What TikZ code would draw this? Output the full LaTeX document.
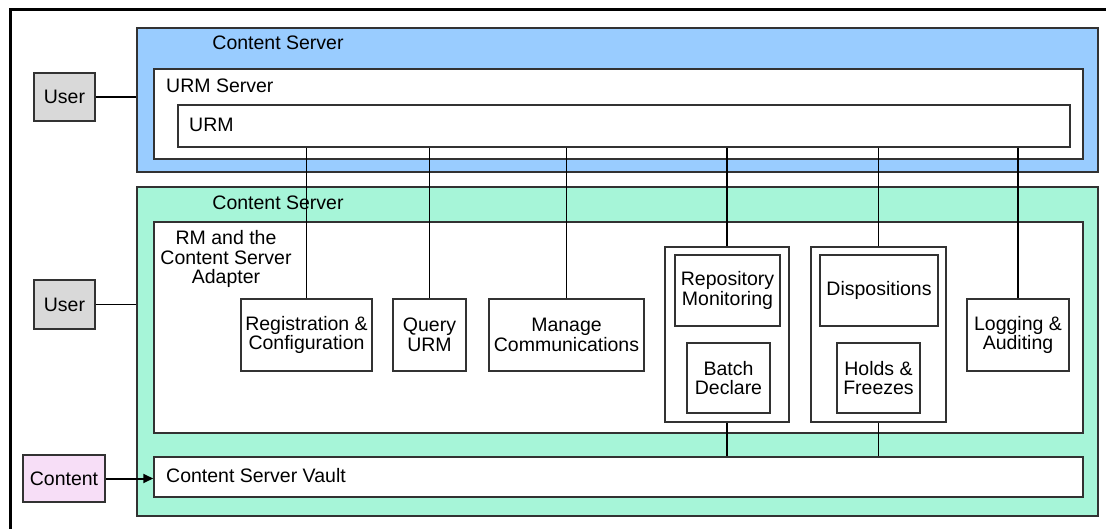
\documentclass[tikz,border=0pt]{standalone}
\usepackage{fontspec}
\setmainfont{Liberation Sans}
\usetikzlibrary{arrows.meta}
\definecolor{csblue}{RGB}{153,204,255}
\definecolor{csgreen}{RGB}{166,245,216}
\definecolor{cpink}{RGB}{247,222,247}
\definecolor{ugray}{RGB}{217,217,217}
\definecolor{edge}{RGB}{50,50,50}
\begin{document}
\begin{tikzpicture}[x=1pt,y=1pt,
  font=\fontsize{19.5}{19.5}\selectfont,
  box/.style={draw=edge,line width=1.5pt,fill=white,inner sep=0pt,align=center},
  title/.style={inner sep=0pt,anchor=west},
  conn/.style={draw=black,line width=1.1pt}]
\useasboundingbox (0,0) rectangle (1106,-529);
\fill[white] (0,0) rectangle (1106,-529);
\draw[line width=3pt] (10,-540) -- (10,-9.5) -- (1120,-9.5);
% top Content Server
\node[box,fill=csblue,minimum width=961pt,minimum height=144pt] (blue) at (617.5,-100) {};
\node[inner sep=0pt] (bluet) at (278,-43) {Content Server};
\node[box,minimum width=929pt,minimum height=90pt] (urmsrv) at (618.5,-114) {};
\node[title] (urmsrvt) at (166,-86) {URM Server};
\node[box,minimum width=892pt,minimum height=42pt] (urm) at (624,-126) {};
\node[title] (urmt) at (189,-125) {URM};
\node[box,fill=ugray,minimum width=61pt,minimum height=48pt] (user1) at (64.5,-97) {User};
% bottom Content Server
\node[box,fill=csgreen,minimum width=961pt,minimum height=329pt] (green) at (617.5,-351.5) {};
\node[inner sep=0pt] (greent) at (278,-203) {Content Server};
\node[box,minimum width=929pt,minimum height=211pt] (rm) at (618.5,-327.5) {};
\node[box,minimum width=929pt,minimum height=40pt] (vault) at (618.5,-477) {};
\node[title] (vaultt) at (166,-476) {Content Server Vault};
\node[box,fill=ugray,minimum width=61pt,minimum height=49pt] (user2) at (64.5,-304.5) {User};
\node[box,fill=cpink,minimum width=82pt,minimum height=47pt] (content) at (64,-478.5) {Content};
\node[box,minimum width=131pt,minimum height=72pt] (reg) at (306.5,-335) {Registration \&\\Configuration};
\node[box,minimum width=73pt,minimum height=72pt] (query) at (429.5,-335) {Query\\URM};
\node[box,minimum width=155pt,minimum height=72pt] (manage) at (566.5,-335) {Manage\\Communications};
\node[box,minimum width=124pt,minimum height=175pt] (g1) at (727,-334.5) {};
\node[box,minimum width=105pt,minimum height=71pt] (repmon) at (727.5,-290.5) {Repository\\Monitoring};
\node[box,minimum width=83pt,minimum height=70pt] (batch) at (728.5,-378) {Batch\\Declare};
\node[box,minimum width=135pt,minimum height=175pt] (g2) at (878.5,-334.5) {};
\node[box,minimum width=118pt,minimum height=71pt] (disp) at (879,-290.5) {Dispositions};
\node[box,minimum width=83pt,minimum height=70pt] (holds) at (878.5,-378) {Holds \&\\Freezes};
\node[box,minimum width=102pt,minimum height=72pt] (log) at (1018,-335) {Logging \&\\Auditing};
\node[inner sep=0pt,align=center] (rmt) at (226,-259) {RM and the\\Content Server\\Adapter};
% connectors
\draw[conn] (user1.east) -- (user1.east -| blue.west);
\draw[conn] (user2.east) -- (user2.east -| green.west);
\draw[conn,line width=2pt,-{Triangle[length=10pt,width=9pt]}] (content.east) -- (content.east -| vault.west);
\draw[conn] (urm.south -| reg.north) -- (reg.north);
\draw[conn] (urm.south -| query.north) -- (query.north);
\draw[conn] (urm.south -| manage.north) -- (manage.north);
\draw[conn] (urm.south -| g1.north) -- (g1.north);
\draw[conn] (urm.south -| g2.north) -- (g2.north);
\draw[conn] (urm.south -| log.north) -- (log.north);
\draw[conn] (g1.south) -- (g1.south |- vault.north);
\draw[conn] (g2.south) -- (g2.south |- vault.north);
\end{tikzpicture}
\end{document}
